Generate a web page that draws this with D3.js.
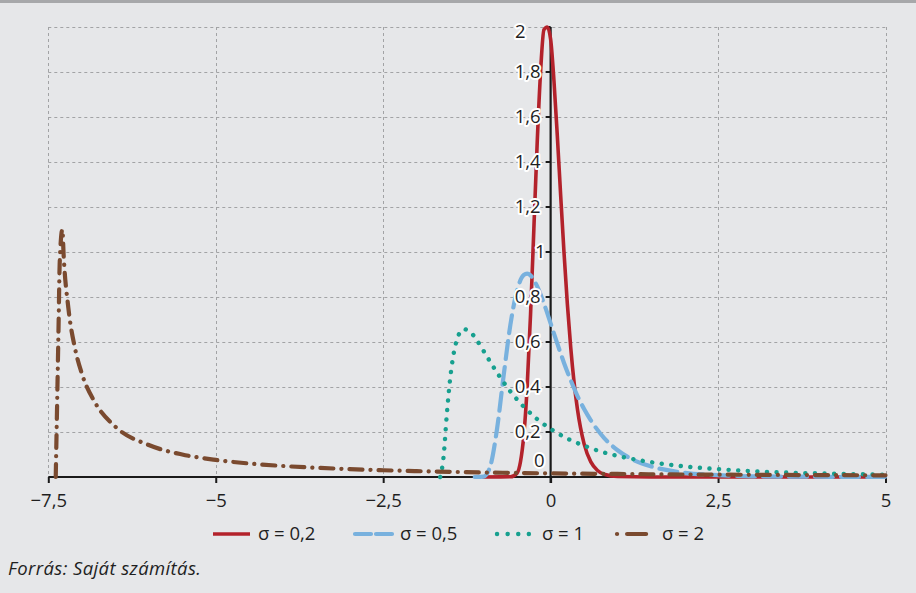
<!DOCTYPE html>
<html>
<head>
<meta charset="utf-8">
<script src="https://cdn.jsdelivr.net/npm/d3@7"></script>
<style>
html,body{margin:0;padding:0;background:#e6e7e9;}
svg{display:block;font-family:"Open Sans",sans-serif;}
</style>
</head>
<body>
<svg id="chart" width="916" height="593"></svg>
<script>
// ---- data ----
const seriesNames = ["σ = 0,2", "σ = 0,5", "σ = 1", "σ = 2"];
const xTicks = [-7.5, -5, -2.5, 0, 2.5, 5];
const xTickLabels = ["−7,5", "−5", "−2,5", "0", "2,5", "5"];
const yTicks = [0, 0.2, 0.4, 0.6, 0.8, 1, 1.2, 1.4, 1.6, 1.8, 2];
const yTickLabels = ["0", "0,2", "0,4", "0,6", "0,8", "1", "1,2", "1,4", "1,6", "1,8", "2"];

const s02x = [-1.02, -0.6, -0.5, -0.45, -0.4, -0.35, -0.3, -0.25, -0.2, -0.15, -0.1, -0.05, 0, 0.05, 0.1, 0.15, 0.2, 0.25, 0.3, 0.35, 0.4, 0.5, 0.6, 0.7, 0.8, 1.0, 1.5, 2, 3, 4, 5];
const s02y = [0, 0.001, 0.018, 0.068, 0.186, 0.402, 0.721, 1.105, 1.489, 1.801, 1.988, 2.0, 1.946, 1.760, 1.516, 1.252, 0.997, 0.768, 0.576, 0.421, 0.302, 0.147, 0.067, 0.029, 0.012, 0.002, 0, 0, 0, 0, 0];

const s05x = [-1.133, -1.0, -0.9, -0.8, -0.7, -0.6, -0.5, -0.4, -0.35, -0.3, -0.2, -0.1, 0, 0.1, 0.2, 0.3, 0.4, 0.5, 0.6, 0.8, 1.0, 1.25, 1.5, 2.0, 2.5, 3.0, 4.0, 5.0];
const s05y = [0, 0.002, 0.049, 0.214, 0.454, 0.678, 0.830, 0.898, 0.904, 0.896, 0.847, 0.771, 0.683, 0.593, 0.507, 0.430, 0.361, 0.302, 0.252, 0.173, 0.119, 0.074, 0.047, 0.019, 0.008, 0.003, 0.001, 0.0002];

const s1x = [-1.649, -1.6, -1.55, -1.5, -1.45, -1.4, -1.3, -1.2, -1.1, -1.0, -0.9, -0.8, -0.6, -0.4, -0.2, 0, 0.25, 0.5, 0.75, 1.0, 1.5, 2.0, 2.5, 3.0, 3.5, 4.0, 4.5, 5.0];
const s1y = [0, 0.085, 0.277, 0.437, 0.544, 0.609, 0.657, 0.645, 0.607, 0.560, 0.511, 0.464, 0.380, 0.312, 0.257, 0.214, 0.171, 0.139, 0.113, 0.094, 0.066, 0.047, 0.035, 0.026, 0.020, 0.016, 0.013, 0.010];

const s2x = [-7.389, -7.345, -7.33, -7.29, -7.27, -7.2, -7.1, -7.0, -6.8, -6.5, -6.0, -5.5, -5.0, -4.5, -4.0, -3.5, -3.0, -2.5, -2.0, -1.5, -1.0, -0.5, 0, 1, 2, 3, 4, 5];
const s2y = [0, 0.70, 0.95, 1.10, 0.98, 0.75, 0.57, 0.46, 0.33, 0.224, 0.142, 0.100, 0.076, 0.060, 0.049, 0.041, 0.035, 0.030, 0.026, 0.023, 0.020, 0.018, 0.016, 0.0135, 0.011, 0.0097, 0.0084, 0.0073];

// ---- styles ----
const FS = 18.5;
const styles = [
  {color:"#b3222b", width:3.6, dash:null, cap:"butt"},
  {color:"#78b1de", width:4.2, dash:"18,8", cap:"round"},
  {color:"#17a08f", width:4.4, dash:"0.1,9.5", cap:"round"},
  {color:"#7a4a2f", width:4.2, dash:"13,8,0.1,8", cap:"round"}
];
const seriesData = [[s02x,s02y],[s05x,s05y],[s1x,s1y],[s2x,s2y]];

const svg = d3.select("#chart");
const L = 48.3, R = 885.5, T = 27, B = 477;
const x = d3.scaleLinear().domain([-7.5, 5]).range([L, R]);
const y = d3.scaleLinear().domain([0, 2]).range([B, T]);

// top border
svg.append("rect").attr("x",0).attr("y",0).attr("width",916).attr("height",3).attr("fill","#a7a8aa");

// grid
const grid = svg.append("g").attr("stroke","#a2a3a5").attr("stroke-width",1).attr("stroke-dasharray","3,3");
yTicks.filter(v=>v>0).forEach(v=>{
  grid.append("line").attr("x1",L).attr("x2",R).attr("y1",Math.round(y(v))+0.5).attr("y2",Math.round(y(v))+0.5);
});
xTicks.filter(v=>v!==0).forEach(v=>{
  grid.append("line").attr("x1",Math.round(x(v))+0.5).attr("x2",Math.round(x(v))+0.5).attr("y1",T).attr("y2",B);
});

// x axis
const xAxis = d3.axisBottom(x).tickValues(xTicks).tickSize(6).tickPadding(0).tickFormat((d,i)=>xTickLabels[i]);
const gx = svg.append("g").attr("transform",`translate(0,${B})`).call(xAxis);
gx.select(".domain").attr("stroke","#1a1a1a").attr("stroke-width",2.2).attr("d",`M${L},0H${R}`);
gx.selectAll(".tick line").attr("stroke","#1a1a1a").attr("stroke-width",2);
gx.selectAll(".tick text").attr("font-size",FS).attr("fill","#1f1f1f").attr("y",24).attr("dy","0.35em").attr("font-family","Open Sans");

// y axis line at x=0
const y0 = x(0);
svg.append("line").attr("x1",y0).attr("x2",y0).attr("y1",T).attr("y2",B+6).attr("stroke","#1a1a1a").attr("stroke-width",2.2);
yTicks.filter(v=>v>0).forEach(v=>{
  svg.append("line").attr("x1",y0-5).attr("x2",y0).attr("y1",y(v)).attr("y2",y(v)).attr("stroke","#1a1a1a").attr("stroke-width",2);
});

// series
const line = d3.line().x(d=>x(d[0])).y(d=>y(d[1])).curve(d3.curveMonotoneX);
seriesData.forEach((sd,i)=>{
  const pts = sd[0].map((v,j)=>[v, sd[1][j]]);
  const st = styles[i];
  const p = svg.append("path").datum(pts).attr("d",line).attr("fill","none")
    .attr("stroke",st.color).attr("stroke-width",st.width).attr("stroke-linecap",st.cap).attr("stroke-linejoin","round");
  if(st.dash) p.attr("stroke-dasharray",st.dash);
});

// y labels with white halo
const gyl = svg.append("g").attr("font-size",FS).attr("text-anchor","end").attr("fill","#1f1f1f");
yTicks.forEach((v,i)=>{
  let yy = y(v), xr = y0 - 10;
  if(v===0){ yy = 461; xr = y0 - 6; }
  if(v===2){ yy = 32; xr = y0 - 25; }
  if(v===1){ xr = y0 - 5; }
  gyl.append("text").attr("x", xr).attr("y",yy).attr("dy","0.35em").text(yTickLabels[i])
    .attr("stroke","#ffffff").attr("stroke-width",4).attr("stroke-linejoin","round").attr("paint-order","stroke");
});

// legend
const legendItems = [
  {x1:213, x2:250, tx:258},
  {x1:355, x2:392, tx:400},
  {x1:497, x2:530, tx:542},
  {x1:617, x2:648, tx:662}
];
const ly = 534;
legendItems.forEach((it,i)=>{
  const st = styles[i];
  const l = svg.append("line").attr("x1",it.x1).attr("x2",it.x2).attr("y1",ly).attr("y2",ly)
    .attr("stroke",st.color).attr("stroke-width",st.width).attr("stroke-linecap",st.cap);
  if(i===1) l.attr("stroke-dasharray","16,5");
  if(i===2) l.attr("stroke-dasharray","0.1,10.5");
  if(i===3) l.attr("stroke-dasharray","0.1,10,19,10");
  svg.append("text").attr("x",it.tx).attr("y",ly).attr("dy","0.35em").attr("font-size",FS).attr("fill","#1f1f1f").text(seriesNames[i]);
});

// source
svg.append("text").attr("x",8).attr("y",568.5).attr("dy","0.35em").attr("font-size",FS).attr("letter-spacing",0.4).attr("font-style","italic").attr("fill","#1f1f1f").text("Forrás: Saját számítás.");
</script>
</body>
</html>
